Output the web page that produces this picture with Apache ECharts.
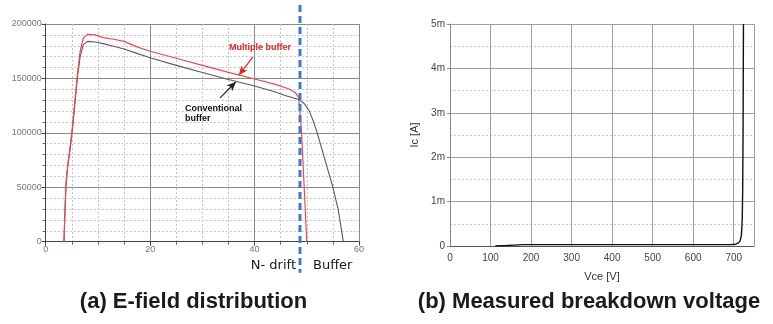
<!DOCTYPE html>
<html><head><meta charset="utf-8">
<script src="https://cdn.jsdelivr.net/npm/echarts@6/dist/echarts.min.js"></script>
<style>html,body{margin:0;padding:0;background:#fff}#c{width:773px;height:324px}</style>
</head><body><div id="c"></div>
<script>
// (a) E-field distribution: position (um) vs field (V/cm)
const multiX = [3.5, 3.7, 3.9, 4.2, 4.7, 5.1, 5.6, 6.1, 6.6, 7.2, 8.0, 9.5, 11, 13, 15, 17.5, 20, 25, 30, 35, 40, 44, 46.5, 47.8, 48.4, 48.7, 49.0, 49.5, 50.0];
const multiY = [0, 30000, 55000, 70000, 88000, 105000, 130000, 155000, 175000, 187000, 190500, 190000, 187500, 186000, 184000, 179000, 175000, 168500, 162000, 155500, 149500, 144500, 140500, 137000, 133000, 120000, 100000, 50000, 0];
const convX = [3.5, 3.7, 3.9, 4.2, 4.7, 5.1, 5.6, 6.1, 6.6, 7.2, 8.0, 9.5, 11, 13, 15, 17.5, 20, 25, 30, 35, 40, 44, 46, 47.5, 48.5, 49.5, 50.5, 51.3, 52, 53.5, 55, 56, 57];
const convY = [0, 30000, 52000, 68000, 86000, 102000, 127000, 152000, 170000, 181000, 184000, 183500, 182000, 179500, 177000, 173000, 169000, 162000, 155500, 149000, 143000, 137500, 134000, 132000, 130500, 127000, 120000, 110000, 100000, 75000, 50000, 30000, 0];
const boundaryX = 48.7;
const efXTicks = [0, 20, 40, 60];
const efYTicks = [0, 50000, 100000, 150000, 200000];
// (b) Measured breakdown: Vce (V) vs Ic (mA)
const bvV = [112, 140, 160, 180, 230, 300, 400, 500, 600, 690, 705, 712, 716, 719, 721, 722, 723, 723.5, 724];
const bvI = [0, 0.01, 0.02, 0.03, 0.03, 0.03, 0.03, 0.03, 0.03, 0.03, 0.04, 0.07, 0.12, 0.25, 0.6, 1.2, 2.5, 3.8, 5.0];
const bvYTickLabels = ['0', '1m', '2m', '3m', '4m', '5m'];
// annotations (data coordinates)
const multiArrow = [[39.7, 169700], [37.0, 153100]];
const convArrow = [[33.4, 132100], [36.4, 146700]];
const multiLabelPos = [35.1, 178000];
const convLabelPos = [26.7, 127000];

const FONT = '"Liberation Sans", Arial, sans-serif';
const chart = echarts.init(document.getElementById('c'), null, {renderer: 'canvas'});

const pairs = (xs, ys) => xs.map((x, i) => [x, ys[i]]);

chart.setOption({
  animation: false,
  backgroundColor: '#fff',
  grid: [
    {left: 45.7, top: 24, width: 313.3, height: 217.7},
    {left: 450, top: 24, width: 304, height: 222}
  ],
  xAxis: [
    {
      gridIndex: 0, type: 'value', min: 0, max: 60, interval: 20,
      axisLine: {lineStyle: {color: '#444', width: 1}},
      axisTick: {show: true, length: 4, lineStyle: {color: '#444'}},
      minorTick: {show: true, splitNumber: 4, length: 3, lineStyle: {color: '#666'}},
      splitLine: {show: true, lineStyle: {color: '#8a8a8a', width: 1}},
      minorSplitLine: {show: true, lineStyle: {color: '#c4c4c4', type: [2, 2], width: 1}},
      axisLabel: {color: '#777', fontSize: 9, fontFamily: FONT, margin: 3,
        formatter: v => efXTicks.includes(v) ? String(v) : ''}
    },
    {
      gridIndex: 1, type: 'value', min: 0, max: 750, interval: 100, offset: 1.5,
      axisLine: {lineStyle: {color: '#555', width: 1}},
      axisTick: {show: false},
      splitLine: {show: true, lineStyle: {color: '#a0a0a0', width: 1}},
      axisLabel: {color: '#444', fontSize: 10, fontFamily: FONT, margin: 6, showMaxLabel: false},
      name: 'Vce [V]', nameLocation: 'middle', nameGap: 24,
      nameTextStyle: {color: '#333', fontSize: 11, fontFamily: FONT}
    }
  ],
  yAxis: [
    {
      gridIndex: 0, type: 'value', min: 0, max: 200000, interval: 50000,
      axisLine: {show: true, lineStyle: {color: '#444', width: 1}},
      axisTick: {show: true, length: 4, lineStyle: {color: '#444'}},
      minorTick: {show: true, splitNumber: 5, length: 3, lineStyle: {color: '#666'}},
      splitLine: {show: true, lineStyle: {color: '#8a8a8a', width: 1}},
      minorSplitLine: {show: true, lineStyle: {color: '#c4c4c4', type: [2, 2], width: 1}},
      axisLabel: {color: '#777', fontSize: 9, fontFamily: FONT, margin: 4,
        formatter: v => efYTicks.includes(v) ? String(v) : ''}
    },
    {
      gridIndex: 1, type: 'value', min: 0, max: 5, interval: 1,
      axisLine: {show: true, lineStyle: {color: '#888', width: 1}},
      axisTick: {show: true, length: 3, lineStyle: {color: '#888'}},
      minorTick: {show: true, splitNumber: 2, length: 0.01, lineStyle: {color: '#fff', width: 0}},
      splitLine: {show: true, lineStyle: {color: '#a0a0a0', width: 1}},
      minorSplitLine: {show: true, lineStyle: {color: '#c8c8c8', type: [2, 2], width: 1}},
      axisLabel: {color: '#444', fontSize: 10, fontFamily: FONT, margin: 5,
        formatter: v => bvYTickLabels[Math.round(v)] ?? ''},
      name: 'Ic [A]', nameLocation: 'middle', nameGap: 30, nameRotate: 90,
      nameTextStyle: {color: '#333', fontSize: 11, fontFamily: FONT}
    }
  ],
  series: [
    {
      name: 'Conventional buffer', type: 'line', xAxisIndex: 0, yAxisIndex: 0,
      data: pairs(convX, convY), showSymbol: false, silent: true,
      lineStyle: {color: '#5a5a5a', width: 1.1},
      markLine: {
        silent: true, symbol: ['none', 'arrow'], symbolSize: [6, 9],
        lineStyle: {color: '#222', width: 1.2, type: 'solid'}, label: {show: false},
        data: [[{coord: convArrow[0]}, {coord: convArrow[1]}]]
      }
    },
    {
      name: 'Multiple buffer', type: 'line', xAxisIndex: 0, yAxisIndex: 0,
      data: pairs(multiX, multiY), showSymbol: false, silent: true,
      lineStyle: {color: '#f04848', width: 1.2},
      markLine: {
        silent: true, symbol: ['none', 'arrow'], symbolSize: [6, 9],
        lineStyle: {color: '#e82020', width: 1.2, type: 'solid'}, label: {show: false},
        data: [[{coord: multiArrow[0]}, {coord: multiArrow[1]}]]
      }
    },
    {
      name: 'Ic', type: 'line', xAxisIndex: 1, yAxisIndex: 1,
      data: pairs(bvV, bvI), showSymbol: false, silent: true,
      lineStyle: {color: '#111', width: 1.4}
    }
  ]
});

const bx = chart.convertToPixel({xAxisIndex: 0}, boundaryX);
const gTop = 24, gBottom = 24 + 217.7;
const mPos = chart.convertToPixel({gridIndex: 0}, multiLabelPos);
const cPos = chart.convertToPixel({gridIndex: 0}, convLabelPos);

chart.setOption({
  graphic: [
    {type: 'line', z: 100, shape: {x1: bx, y1: gTop - 19, x2: bx, y2: gBottom + 31},
     style: {stroke: '#3a7bd0', lineWidth: 3, lineDash: [7, 4]}},
    {type: 'text', x: bx - 4, y: gBottom + 24, z: 100,
     style: {text: 'N- drift', fill: '#1a1a1a', font: '13px "DejaVu Sans", sans-serif', align: 'right', verticalAlign: 'middle'}},
    {type: 'text', x: bx + 13, y: gBottom + 24, z: 100,
     style: {text: 'Buffer', fill: '#1a1a1a', font: '13px "DejaVu Sans", sans-serif', align: 'left', verticalAlign: 'middle'}},
    {type: 'text', x: mPos[0], y: mPos[1], z: 100,
     style: {text: 'Multiple buffer', fill: '#e82020', font: 'bold 9px ' + FONT, align: 'left', verticalAlign: 'middle'}},
    {type: 'text', x: cPos[0], y: cPos[1], z: 100,
     style: {text: 'Conventional\nbuffer', fill: '#111', font: 'bold 9px ' + FONT, lineHeight: 10, align: 'left', verticalAlign: 'top'}},
    {type: 'text', x: 193.5, y: 302, z: 100,
     style: {text: '(a) E-field distribution', fill: '#1a1a1a', font: 'bold 22px ' + FONT, align: 'center', verticalAlign: 'middle'}},
    {type: 'text', x: 589, y: 302, z: 100,
     style: {text: '(b) Measured breakdown voltage', fill: '#1a1a1a', font: 'bold 22px ' + FONT, align: 'center', verticalAlign: 'middle'}}
  ]
});
</script>
</body></html>
